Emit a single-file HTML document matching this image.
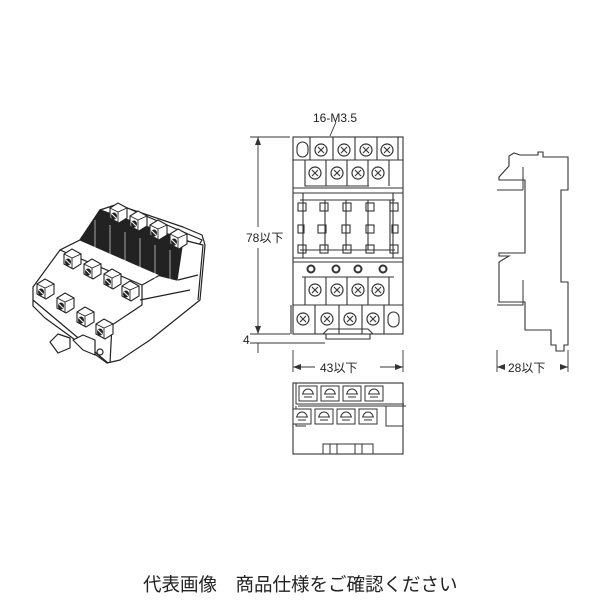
<!DOCTYPE html>
<html><head><meta charset="utf-8"><style>
html,body{margin:0;padding:0;background:#fff;}
svg{display:block}
text{font-family:"Liberation Sans","Noto Sans CJK JP",sans-serif;fill:#222}
</style></head><body>
<svg width="600" height="600" viewBox="0 0 600 600" xmlns="http://www.w3.org/2000/svg">
<defs>
<g id="scr"><circle r="6" fill="#fff" stroke="#333" stroke-width="1.2"/><path d="M-3,-3L3,3M3,-3L-3,3" stroke="#333" stroke-width="1.1"/></g>
<g id="bt"><rect x="-9" y="-6" width="18" height="15" fill="#fff" stroke="#333" stroke-width="1"/><path d="M-5,2 a5,5 0 0 1 10,0 M-6,2h12M-4,5h8" fill="none" stroke="#333" stroke-width="1"/></g>
<g id="pt"><path d="M-8,-4l8,-5l9,5v10l-8,5l-9,-5z" fill="#fff" stroke="#222" stroke-width="1.1"/><path d="M-8,-4l8,4l9,-4M0,0v11" fill="none" stroke="#222" stroke-width="0.9"/><ellipse cx="-4" cy="4" rx="3" ry="3.5" fill="#222"/><path d="M-6,2l4,4" stroke="#fff" stroke-width="1"/></g>
</defs>
<g fill="none" stroke="#333" stroke-width="1.1">
<rect x="293" y="137" width="110" height="197"/>
<line x1="293" y1="160" x2="403" y2="160"/>
<line x1="293" y1="188" x2="403" y2="188"/>
<line x1="293" y1="193" x2="403" y2="193"/>
<line x1="293" y1="258" x2="403" y2="258"/>
<line x1="293" y1="262" x2="403" y2="262"/>
<line x1="293" y1="305" x2="403" y2="305"/>
<rect x="297" y="142" width="11" height="15" rx="5.5"/>
<rect x="388" y="312" width="11" height="15" rx="5.5"/>
<path d="M310,137v23M333,137v23M355,137v23M377,137v23M398,137v23"/>
<path d="M305,160v26h64M326,160v26M347,160v26M368,160v26M389,160v26"/>
<path d="M305,277v28M326,277v28M347,277v28M368,277v28M389,277v28M302,277h92"/>
<path d="M291,305v29M315,305v29M339,305v29M362,305v29M384,305v29"/>
<path d="M300,200h95M300,250h95M303,193v65M393,193v65M325,200v50M346,200v50M368,200v50M390,200v50"/>
<rect x="298" y="203" width="8" height="8"/><rect x="320" y="203" width="8" height="8"/><rect x="343" y="203" width="8" height="8"/><rect x="366" y="203" width="8" height="8"/><rect x="390" y="203" width="8" height="8"/>
<rect x="298" y="225" width="6" height="8"/><rect x="318" y="225" width="8" height="8"/><rect x="342" y="225" width="8" height="8"/><rect x="366" y="225" width="8" height="8"/><rect x="392" y="225" width="6" height="8"/>
<rect x="298" y="245" width="8" height="8"/><rect x="320" y="245" width="8" height="8"/><rect x="343" y="245" width="8" height="8"/><rect x="366" y="245" width="8" height="8"/><rect x="390" y="245" width="8" height="8"/>
<circle cx="311" cy="269" r="3.5" stroke-width="2"/><circle cx="336" cy="269" r="3.5" stroke-width="2"/><circle cx="358" cy="269" r="3.5" stroke-width="2"/><circle cx="383" cy="269" r="3.5" stroke-width="2"/>
<path d="M323,334l5,-5h40l5,5M326,334v5h44v-5"/>
</g>
<use href="#scr" x="321" y="150"/><use href="#scr" x="344" y="150"/><use href="#scr" x="366" y="150"/><use href="#scr" x="387" y="150"/>
<use href="#scr" x="315" y="173"/><use href="#scr" x="337" y="173"/><use href="#scr" x="358" y="173"/><use href="#scr" x="378" y="173"/>
<use href="#scr" x="315" y="290"/><use href="#scr" x="337" y="290"/><use href="#scr" x="358" y="290"/><use href="#scr" x="378" y="290"/>
<use href="#scr" x="303" y="319"/><use href="#scr" x="327" y="319"/><use href="#scr" x="350" y="319"/><use href="#scr" x="373" y="319"/>
<g stroke="#333" stroke-width="0.9" fill="none">
<path d="M250,137h40M250,334h40M250,343h75"/>
<path d="M258,137v90M258,248v86M258,343v10M258,322v12"/>
<path d="M293,350v22M403,350v22M293,367h22M380,367h23"/>
<path d="M497,350v22M568,350v22M497,367h6M560,367h8"/>
<path d="M336,122l-6,14"/>
</g>
<g fill="#333"><path d="M258,137l-3,8h6z"/><path d="M258,334l-3,-8h6z"/><path d="M293,367l8,-3v6z"/><path d="M403,367l-8,-3v6z"/><path d="M497,367l8,-3v6z"/><path d="M568,367l-8,-3v6z"/></g>
<text x="313" y="122" font-size="12">16-M3.5</text>
<text x="246" y="242" font-size="12">78以下</text>
<text x="243" y="344" font-size="12">4</text>
<text x="320" y="372" font-size="12">43以下</text>
<text x="508" y="372" font-size="12">28以下</text>
<path d="M520,155h18v-3h5v5h25v33h-7v92h7v63h-4v6h-8v-6h-5v-15h-26v-28h-26v-40l10,-6h-10v-3h26v-73h-26v-3l10,-11v-10l5,-3z" fill="none" stroke="#333" stroke-width="1.1"/>
<path d="M497,190h26M523,167v23M497,305h26v-25" fill="none" stroke="#333"/>
<rect x="293" y="383" width="110" height="71" fill="none" stroke="#333" stroke-width="1.1"/>
<path d="M296,383v21h108M298,406h108M296,406v20h10M386,406v20h17M323,444v10h50v-10zM330,444v10M337,444v10M355,444v10M362,444v10" fill="none" stroke="#333"/>
<use href="#bt" x="308" y="392"/><use href="#bt" x="330" y="392"/><use href="#bt" x="352" y="392"/><use href="#bt" x="374" y="392"/>
<use href="#bt" x="302" y="415"/><use href="#bt" x="324" y="415"/><use href="#bt" x="346" y="415"/><use href="#bt" x="368" y="415"/>
<!-- perspective -->
<g stroke="#222" stroke-width="1.2" fill="#fff" stroke-linejoin="round">
<path d="M33,287l27,-37l20,-10l20,-30l18,-5l65,22l19,8l3,10l-5,55l-50,40l-30,20l-13,3l-62,-45l-12,-12z"/>
<path d="M100,210l18,-6l84,36l-3,5z"/>
<path d="M80,240l20,-30l83,30l-6,40l-40,-10z" fill="#222"/>
<path d="M60,250l20,-10l80,35l-18,10z"/>
<path d="M142,285v20l-30,20l-2,38M33,300l75,63M140,300l50,-10M183,240l20,5l-5,55M178,280l20,-5"/>
<path d="M95,355l0,-15l-12,-5l-10,5l10,10z"/>
<path d="M50,342l8,-8l12,4l0,10l-12,5z"/>
<circle cx="100" cy="352" r="3"/>
</g>
<g fill="#fff" stroke="#fff" stroke-width="0.6">
<path d="M95,220v40M110,225v40M125,232v40M140,238v40M155,245v36M170,250v32"/>
</g>
<use href="#pt" x="118" y="212"/><use href="#pt" x="138" y="220"/><use href="#pt" x="158" y="229"/><use href="#pt" x="178" y="238"/>
<use href="#pt" x="72" y="258"/><use href="#pt" x="92" y="268"/><use href="#pt" x="112" y="278"/><use href="#pt" x="130" y="290"/>
<use href="#pt" x="45" y="288"/><use href="#pt" x="65" y="302"/><use href="#pt" x="85" y="316"/><use href="#pt" x="104" y="328"/>
<text x="143" y="591" font-size="18.5" style="font-family:'Liberation Sans','Noto Sans CJK JP',sans-serif">代表画像　商品仕様をご確認ください</text>
</svg>
</body></html>
